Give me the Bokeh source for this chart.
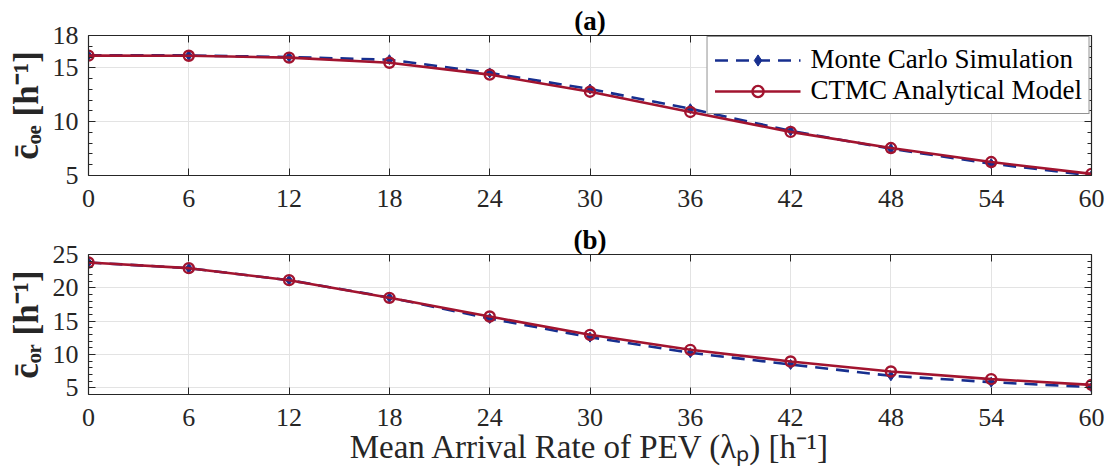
from bokeh.plotting import figure
from bokeh.models import LinearAxis, FixedTicker, Range1d, Title
from bokeh.layouts import column
from bokeh.embed import file_html
from bokeh.resources import INLINE

x = [0, 6, 12, 18, 24, 30, 36, 42, 48, 54, 60]
mc_oe = [16.15, 16.15, 16.0, 15.75, 14.53, 13.03, 11.2, 9.15, 7.48, 6.1, 5.0]
ctmc_oe = [16.13, 16.12, 15.95, 15.47, 14.37, 12.78, 10.9, 9.05, 7.55, 6.25, 5.15]
mc_or = [23.8, 22.95, 21.15, 18.55, 15.4, 12.6, 10.25, 8.5, 6.8, 5.85, 5.1]
ctmc_or = [23.8, 22.95, 21.15, 18.5, 15.7, 12.95, 10.7, 8.95, 7.45, 6.3, 5.45]
x_ticks = [0, 6, 12, 18, 24, 30, 36, 42, 48, 54, 60]
oe_ticks = [5, 10, 15, 18]
or_ticks = [5, 10, 15, 20, 25]

BLUE = "#172f8f"
RED = "#a2142f"
FONT = "'Liberation Serif', 'Times New Roman', serif"
AXC = "#262626"


def style_axis(ax, labels=True):
    ax.axis_line_color = AXC
    ax.axis_line_width = 1.2
    ax.major_tick_in = 7
    ax.major_tick_out = 0
    ax.major_tick_line_color = AXC
    ax.minor_tick_in = 4
    ax.minor_tick_out = 0
    ax.minor_tick_line_color = AXC
    ax.major_label_text_font = FONT
    ax.major_label_text_font_size = "26px"
    ax.major_label_text_color = AXC
    if not labels:
        ax.major_label_text_font_size = "0px"
        ax.major_label_text_alpha = 0


def make_fig(title, ymin, ymax, yticks, yminor, ylabel, border_top, border_bottom, xlabel=None):
    p = figure(frame_width=1003, frame_height=140, output_backend="svg", toolbar_location=None,
               x_range=Range1d(0, 60), y_range=Range1d(ymin, ymax),
               min_border_left=88, min_border_right=22,
               min_border_top=border_top, min_border_bottom=border_bottom)
    p.title = Title(text=title, align="center", text_font=FONT, text_font_size="27px",
                    text_font_style="bold", text_color="black", standoff=0, offset=0)
    p.outline_line_color = None
    p.background_fill_color = "white"
    p.border_fill_color = "white"
    xt = FixedTicker(ticks=x_ticks)
    yt = FixedTicker(ticks=yticks, minor_ticks=yminor)
    p.xaxis.ticker = xt
    p.yaxis.ticker = yt
    style_axis(p.xaxis[0])
    style_axis(p.yaxis[0])
    p.xaxis.major_label_standoff = 14
    p.yaxis.major_label_standoff = 10
    p.yaxis.axis_label = ylabel
    p.yaxis.axis_label_text_font = FONT
    p.yaxis.axis_label_text_font_size = "35px"
    p.yaxis.axis_label_text_font_style = "bold"
    p.yaxis.axis_label_text_color = AXC
    p.yaxis.axis_label_standoff = 4
    if xlabel:
        p.xaxis.axis_label = xlabel
        p.xaxis.axis_label_text_font = FONT
        p.xaxis.axis_label_text_font_size = "33px"
        p.xaxis.axis_label_text_font_style = "normal"
        p.xaxis.axis_label_text_color = AXC
        p.xaxis.axis_label_standoff = 0
    # box axes
    top = LinearAxis(ticker=FixedTicker(ticks=x_ticks))
    style_axis(top, labels=False)
    top.major_label_standoff = 0
    p.add_layout(top, "above")
    right = LinearAxis(ticker=FixedTicker(ticks=yticks, minor_ticks=yminor))
    style_axis(right, labels=False)
    right.major_label_standoff = 0
    p.add_layout(right, "right")
    p.xgrid.ticker = xt
    p.ygrid.ticker = FixedTicker(ticks=yticks)
    p.grid.grid_line_color = "#e3e3e3"
    p.grid.grid_line_width = 1
    return p


p1 = make_fig("(a)", 5, 18, oe_ticks, [6, 7, 8, 9, 11, 12, 13, 14, 16, 17],
              "c\u0304\u2092\u2091 [h\u207b\u00b9]", 35, 47)
p2 = make_fig("(b)", 4, 25, or_ticks, [4] + [v for v in range(6, 25) if v % 5 != 0],
              "c\u0304\u2092\u1d63 [h\u207b\u00b9]", 31, 77,
              xlabel="Mean Arrival Rate of PEV (\u03bb\u209a) [h\u207b\u00b9]")

for p, mc, ct, leg in ((p1, mc_oe, ctmc_oe, True), (p2, mc_or, ctmc_or, False)):
    kw1 = dict(legend_label="Monte Carlo Simulation") if leg else {}
    kw2 = dict(legend_label="CTMC Analytical Model") if leg else {}
    p.line(x, mc, line_color=BLUE, line_width=2.6, line_dash="13 8", **kw1)
    p.scatter(x, mc, marker="diamond", size=10, fill_color=BLUE, line_color=BLUE, **kw1)
    p.line(x, ct, line_color=RED, line_width=2.6, **kw2)
    p.scatter(x, ct, marker="circle", size=10, fill_color=None, line_color=RED, line_width=2.4, **kw2)

lg = p1.legend[0]
lg.location = "top_right"
lg.margin = 1
lg.padding = 7
lg.spacing = 0
lg.border_line_color = "#262626"
lg.border_line_width = 1
lg.label_text_font = FONT
lg.label_text_font_size = "27px"
lg.label_text_color = "black"
lg.glyph_width = 86
lg.glyph_height = 28
lg.label_height = 28
lg.label_standoff = 10
lg.background_fill_alpha = 1

layout = column(p1, p2, spacing=0)
open("out.html", "w").write(file_html(layout, INLINE))
